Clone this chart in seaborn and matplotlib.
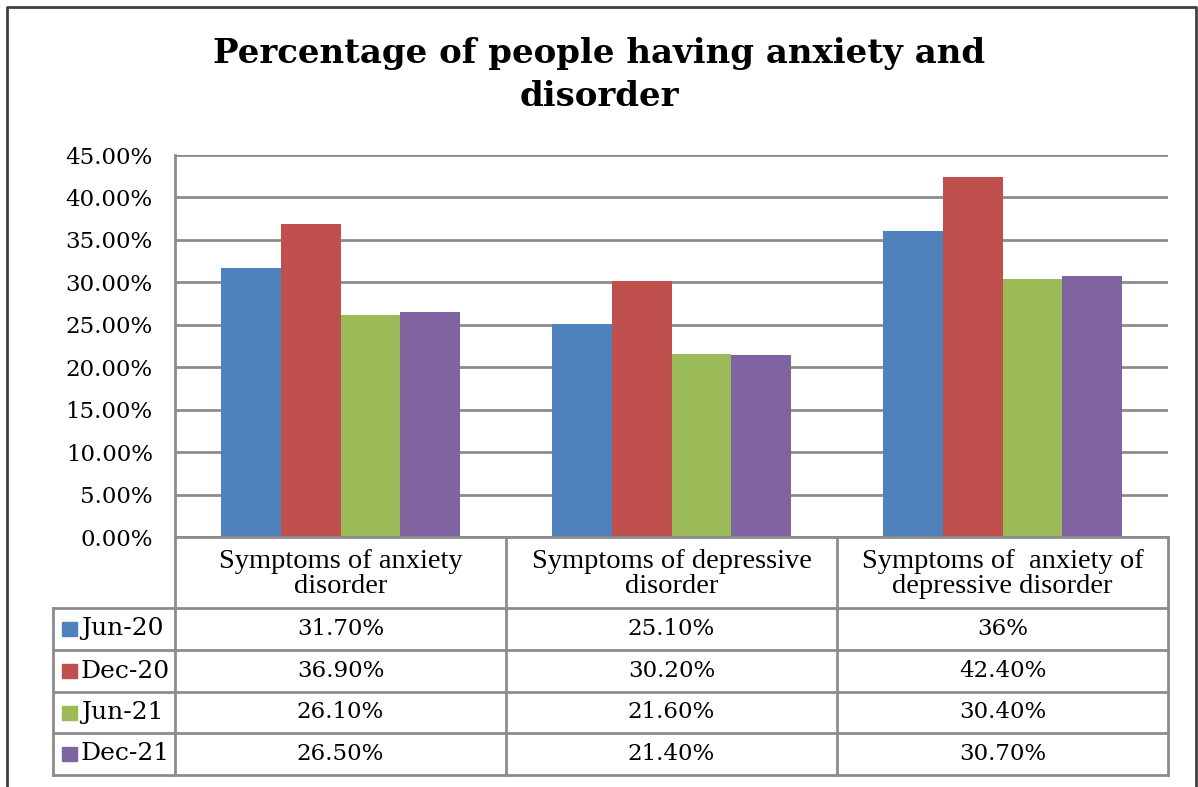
import pandas as pd
import matplotlib.pyplot as plt
import matplotlib.transforms as mtransforms
import seaborn as sns

# data
categories = ["Symptoms of anxiety\ndisorder",
              "Symptoms of depressive\ndisorder",
              "Symptoms of  anxiety of\ndepressive disorder"]
periods = ["Jun-20", "Dec-20", "Jun-21", "Dec-21"]
jun20 = [31.7, 25.1, 36.0]
dec20 = [36.9, 30.2, 42.4]
jun21 = [26.1, 21.6, 30.4]
dec21 = [26.5, 21.4, 30.7]
table_labels = [["31.70%", "25.10%", "36%"],
                ["36.90%", "30.20%", "42.40%"],
                ["26.10%", "21.60%", "30.40%"],
                ["26.50%", "21.40%", "30.70%"]]
colors = ["#4F81BD", "#C0504D", "#9BBB59", "#8064A2"]

series = [jun20, dec20, jun21, dec21]
rows = []
for p, vals in zip(periods, series):
    for c, v in zip(categories, vals):
        rows.append({"category": c, "period": p, "value": v / 100})
df = pd.DataFrame(rows)

W, H = 1198, 787
num_font = "DejaVu Serif"
lbl_font = "Liberation Serif"
grid_col = "#8c8c8c"

fig = plt.figure(figsize=(W / 100, H / 100), dpi=100)
ax = fig.add_axes([175 / W, 1 - 537 / H, (1168 - 175) / W, (537 - 155) / H])

sns.barplot(data=df, x="category", y="value", hue="period", palette=colors,
            saturation=1, width=0.725, ax=ax, legend=False, zorder=3)

ax.set_xlim(-0.5, 2.5)
ax.set_ylim(0, 0.45)
ax.set_yticks([i * 0.05 for i in range(10)])
ax.set_yticklabels([f"{i * 5:.2f}%" for i in range(10)], fontfamily=num_font, fontsize=16.5)
ax.tick_params(axis="y", length=0, pad=16)
ax.set_xticks([])
ax.set_xlabel("")
ax.set_ylabel("")
ax.yaxis.grid(True, color=grid_col, linewidth=2)
ax.set_axisbelow(True)
for s in ["top", "right", "bottom"]:
    ax.spines[s].set_visible(False)
ax.spines["left"].set_color(grid_col)
ax.spines["left"].set_linewidth(2)

# data table under the plot
def fy(py):
    return 1 - py / H

def fx(px):
    return px / W

blend = mtransforms.blended_transform_factory(ax.transData, fig.transFigure)
lw = 2
row_y = [608, 650, 692, 733, 775]

fig.add_artist(plt.Line2D([-0.5, 2.5], [fy(537), fy(537)], transform=blend, color=grid_col, lw=lw))
for y in row_y:
    fig.add_artist(plt.Line2D([fx(53), fx(175)], [fy(y), fy(y)], transform=fig.transFigure, color=grid_col, lw=lw))
    fig.add_artist(plt.Line2D([-0.5, 2.5], [fy(y), fy(y)], transform=blend, color=grid_col, lw=lw))
fig.add_artist(plt.Line2D([fx(53), fx(53)], [fy(608), fy(775)], transform=fig.transFigure, color=grid_col, lw=lw))
for xb in [-0.5, 0.5, 1.5, 2.5]:
    fig.add_artist(plt.Line2D([xb, xb], [fy(537), fy(775)], transform=blend, color=grid_col, lw=lw))

for i, c in enumerate(categories):
    fig.text(i, fy(574), c, transform=blend, ha="center", va="center",
             fontfamily=lbl_font, fontsize=20.5, linespacing=1.03)

for r, (p, col) in enumerate(zip(periods, colors)):
    yc = fy((row_y[r] + row_y[r + 1]) / 2)
    fig.add_artist(plt.Rectangle((fx(62), yc - 7 / H), 15 / W, 14 / H,
                                 transform=fig.transFigure, color=col))
    fig.text(fx(81), yc, p, ha="left", va="center", fontfamily=num_font, fontsize=18)
    for i in range(len(categories)):
        fig.text(i, yc, table_labels[r][i], transform=blend, ha="center", va="center",
                 fontfamily=num_font, fontsize=16.5)

# title
fig.text(0.5, fy(75), "Percentage of people having anxiety and\ndisorder", ha="center", va="center",
         fontfamily=num_font, fontweight="bold", fontsize=24.5, linespacing=1.4)

# chart border
fig.add_artist(plt.Line2D([fx(7), fx(7), fx(1196), fx(1196)], [fy(800), fy(7), fy(7), fy(800)],
                          transform=fig.transFigure, color="#404040", lw=2))

fig.savefig("out.png", dpi=100)
